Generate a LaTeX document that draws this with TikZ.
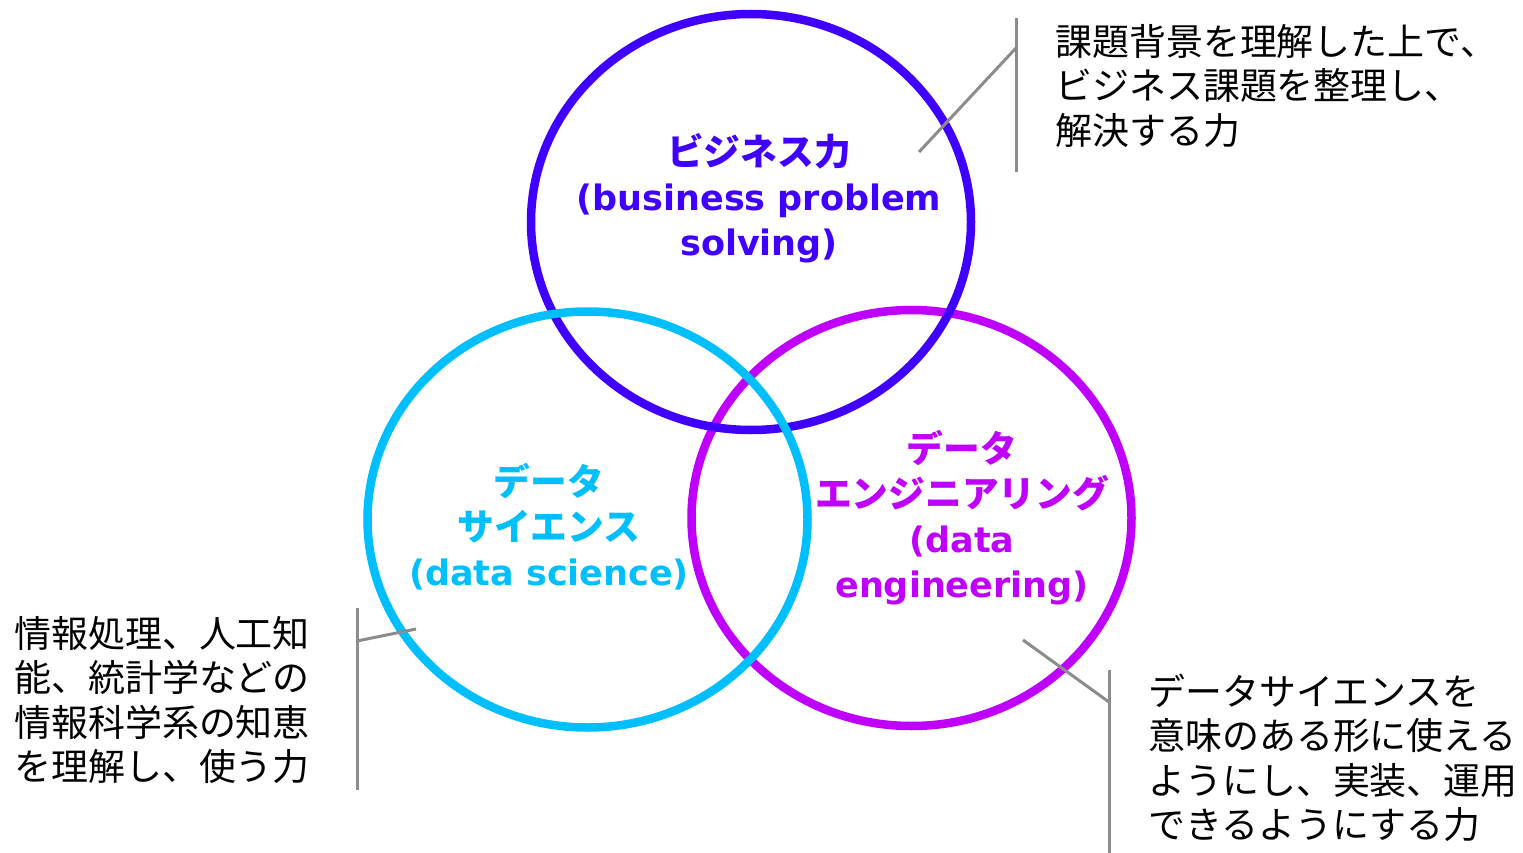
\documentclass[tikz,border=0pt]{standalone}
\usepackage{fontspec}
\setmainfont{DejaVu Sans}
\newfontfamily\jp[Scale=1.05]{Noto Sans CJK JP}
\definecolor{cblue}{HTML}{4000FF}
\definecolor{ccyan}{HTML}{00BFFF}
\definecolor{cmag}{HTML}{BF00FF}
\definecolor{cgray}{HTML}{8C8C8C}
\begin{document}
\begin{tikzpicture}[x=1pt,y=-1pt,
  ring/.style={line width=8.5pt},
  lbl/.style={font=\fontsize{35}{45}\selectfont\bfseries, align=center, inner sep=0pt},
  callout/.style={font=\fontsize{35.2}{44.5}\selectfont\jp, align=left, inner sep=0pt, anchor=west, text=black},
  leader/.style={draw=cgray, line width=3pt}]
\useasboundingbox (0,0) rectangle (1523,853);
% circles: magenta bottom, blue, cyan top
\coordinate (cm) at (911.5,518);
\coordinate (cb) at (751,222);
\coordinate (cc) at (587.5,519.5);
\draw[ring, cmag] (cm) ellipse [x radius=220pt, y radius=208pt];
\draw[ring, cblue] (cb) ellipse [x radius=220pt, y radius=208pt];
\draw[ring, ccyan] (cc) ellipse [x radius=220pt, y radius=208pt];
% labels
\node[lbl, text=cblue] (lb) at (759,198) {{\jp ビジネス力}\\(business problem\\solving)};
\node[lbl, text=ccyan] (lc) at (549,527) {{\jp データ}\\{\jp サイエンス}\\(data science)};
\node[lbl, text=cmag] (lm) at (962,518) {{\jp データ}\\{\jp エンジニアリング}\\(data\\engineering)};
% callout texts
\node[callout] (tb) at (1055,86) {課題背景を理解した上で、\\ビジネス課題を整理し、\\解決する力};
\node[callout] (tc) at (14,700) {情報処理、人工知\\能、統計学などの\\情報科学系の知恵\\を理解し、使う力};
\node[callout] (tm) at (1148,758) {データサイエンスを\\意味のある形に使える\\ようにし、実装、運用\\できるようにする力};
% leaders
\coordinate (b1) at (1016,18); \coordinate (b2) at (1016,172);
\coordinate (bj) at (1016,48); \coordinate (be) at (919,152);
\draw[leader] (b1) -- (b2);
\draw[leader] (bj) -- (be);
\coordinate (c1) at (357,608); \coordinate (c2) at (357,790);
\coordinate (cj) at (357,641); \coordinate (ce) at (416,629);
\draw[leader] (c1) -- (c2);
\draw[leader] (cj) -- (ce);
\coordinate (m1) at (1109,670); \coordinate (m2) at (1109,853);
\coordinate (mj) at (1109,702); \coordinate (me) at (1023,640);
\draw[leader] (m1) -- (m2);
\draw[leader] (mj) -- (me);
\end{tikzpicture}
\end{document}
